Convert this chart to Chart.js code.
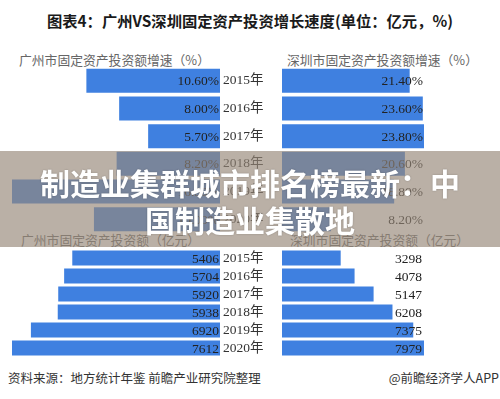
<!DOCTYPE html>
<html>
<head>
<meta charset="utf-8">
<script src="https://cdn.jsdelivr.net/npm/chart.js@4/dist/chart.umd.min.js"></script>
<style>
  html, body { margin:0; padding:0; background:#fff; }
  body { width:500px; height:399px; position:relative; overflow:hidden;
         font-family:"Noto Sans CJK SC","Noto Sans",sans-serif; }
  .abs { position:absolute; }
  .title { left:0; width:500px; top:9px; text-align:center; font-size:15.3px; font-weight:bold; color:#1a1a1a; line-height:22px; }
  .sub { font-size:12.8px; color:#666; line-height:16px; white-space:nowrap; }
  .foot { font-size:12.5px; color:#333; line-height:16px; white-space:nowrap; top:370px; }
  .banner { left:0; top:151px; width:500px; height:96px; background:rgba(150,135,120,0.66); z-index:5; }
  .bannerText { left:35px; width:430px; top:164px; text-align:center; color:#fff; font-weight:bold;
                font-size:30px; line-height:37px; z-index:6; text-shadow:0 0 2px rgba(0,0,0,0.25); }
  .box { position:absolute; }
</style>
</head>
<body>
<div class="abs title">图表4：广州VS深圳固定资产投资增长速度(单位：亿元，%)</div>

<div class="abs sub" style="left:19px; top:52px;">广州市固定资产投资额增速（%）</div>
<div class="abs sub" style="left:287px; top:52px;">深圳市固定资产投资额增速（%）</div>
<div class="abs sub" style="left:21px; top:232px;">广州市固定资产投资额（亿元）</div>
<div class="abs sub" style="left:290px; top:232px;">深圳市固定资产投资额（亿元）</div>

<div class="box" style="left:12px; top:67px; width:270px; height:166px;"><canvas id="gzRate"></canvas></div>
<div class="box" style="left:282px; top:67px; width:204px; height:166px;"><canvas id="szRate"></canvas></div>
<div class="box" style="left:12px; top:249px; width:270px; height:108px;"><canvas id="gzAmt"></canvas></div>
<div class="box" style="left:282px; top:249px; width:204px; height:108px;"><canvas id="szAmt"></canvas></div>

<div class="abs foot" style="left:8px;">资料来源：地方统计年鉴 前瞻产业研究院整理</div>
<div class="abs foot" style="right:1px;">@前瞻经济学人APP</div>

<div class="abs banner"></div>
<div class="abs bannerText">制造业集群城市排名榜最新：中国制造业集散地</div>

<script>
// ---- data ----
const years = ['2015年', '2016年', '2017年', '2018年', '2019年', '2020年'];
const gzGrowth = [10.6, 8.0, 5.7, 8.2, 16.5, 10.0];
const szGrowth = [21.4, 23.6, 23.8, 20.6, 18.8, 8.2];
const gzInvest = [5406, 5704, 5920, 5938, 6920, 7612];
const szInvest = [3298, 4078, 5147, 6208, 7375, 7979];

const BAR_COLOR = '#3f80e0';
const LABEL_FONT = '13.5px "Liberation Serif", "Noto Sans CJK SC", serif';

const valueLabels = {
  id: 'valueLabels',
  afterDatasetsDraw(chart, args, opts) {
    const { ctx, chartArea } = chart;
    const meta = chart.getDatasetMeta(0);
    const ds = chart.data.datasets[0];
    ctx.save();
    ctx.font = LABEL_FONT;
    ctx.fillStyle = '#222';
    ctx.textAlign = 'right';
    ctx.textBaseline = 'middle';
    meta.data.forEach((bar, i) => {
      ctx.fillText(opts.format(ds.data[i]), chartArea.right - opts.inset, bar.y + 1);
    });
    ctx.restore();
  }
};

function makeChart(id, values, opts) {
  const maxVal = Math.max(...values);
  return new Chart(document.getElementById(id), {
    type: 'bar',
    data: {
      labels: years,
      datasets: [{
        data: values,
        backgroundColor: BAR_COLOR,
        borderWidth: 0,
        categoryPercentage: 1,
        barPercentage: opts.barPct
      }]
    },
    options: {
      indexAxis: 'y',
      responsive: true,
      maintainAspectRatio: false,
      animation: false,
      layout: { padding: 0 },
      plugins: {
        legend: { display: false },
        tooltip: { enabled: false },
        valueLabels: { format: opts.format, inset: opts.inset }
      },
      scales: {
        x: {
          display: false,
          reverse: opts.reverse,
          min: 0,
          max: maxVal
        },
        y: {
          display: opts.showYears,
          position: 'right',
          grid: { display: false, drawTicks: false },
          border: { display: false },
          ticks: {
            autoSkip: false,
            padding: 3,
            color: '#333',
            font: { family: '"Liberation Serif", "Noto Sans CJK SC", serif', size: 13.5 }
          },
          afterFit(axis) {
            axis.width = 62;
            axis.paddingTop = 0;
            axis.paddingBottom = 0;
          }
        }
      }
    },
    plugins: [valueLabels]
  });
}

const pct = v => v.toFixed(2) + '%';
const num = v => String(v);

makeChart('gzRate', gzGrowth, { reverse: true, showYears: true, barPct: 0.87, format: pct, inset: 1 });
makeChart('szRate', szGrowth, { reverse: false, showYears: false, barPct: 0.87, format: pct, inset: 1 });
makeChart('gzAmt', gzInvest, { reverse: true, showYears: true, barPct: 0.83, format: num, inset: 1 });
makeChart('szAmt', szInvest, { reverse: false, showYears: false, barPct: 0.83, format: num, inset: 2 });
</script>
</body>
</html>
